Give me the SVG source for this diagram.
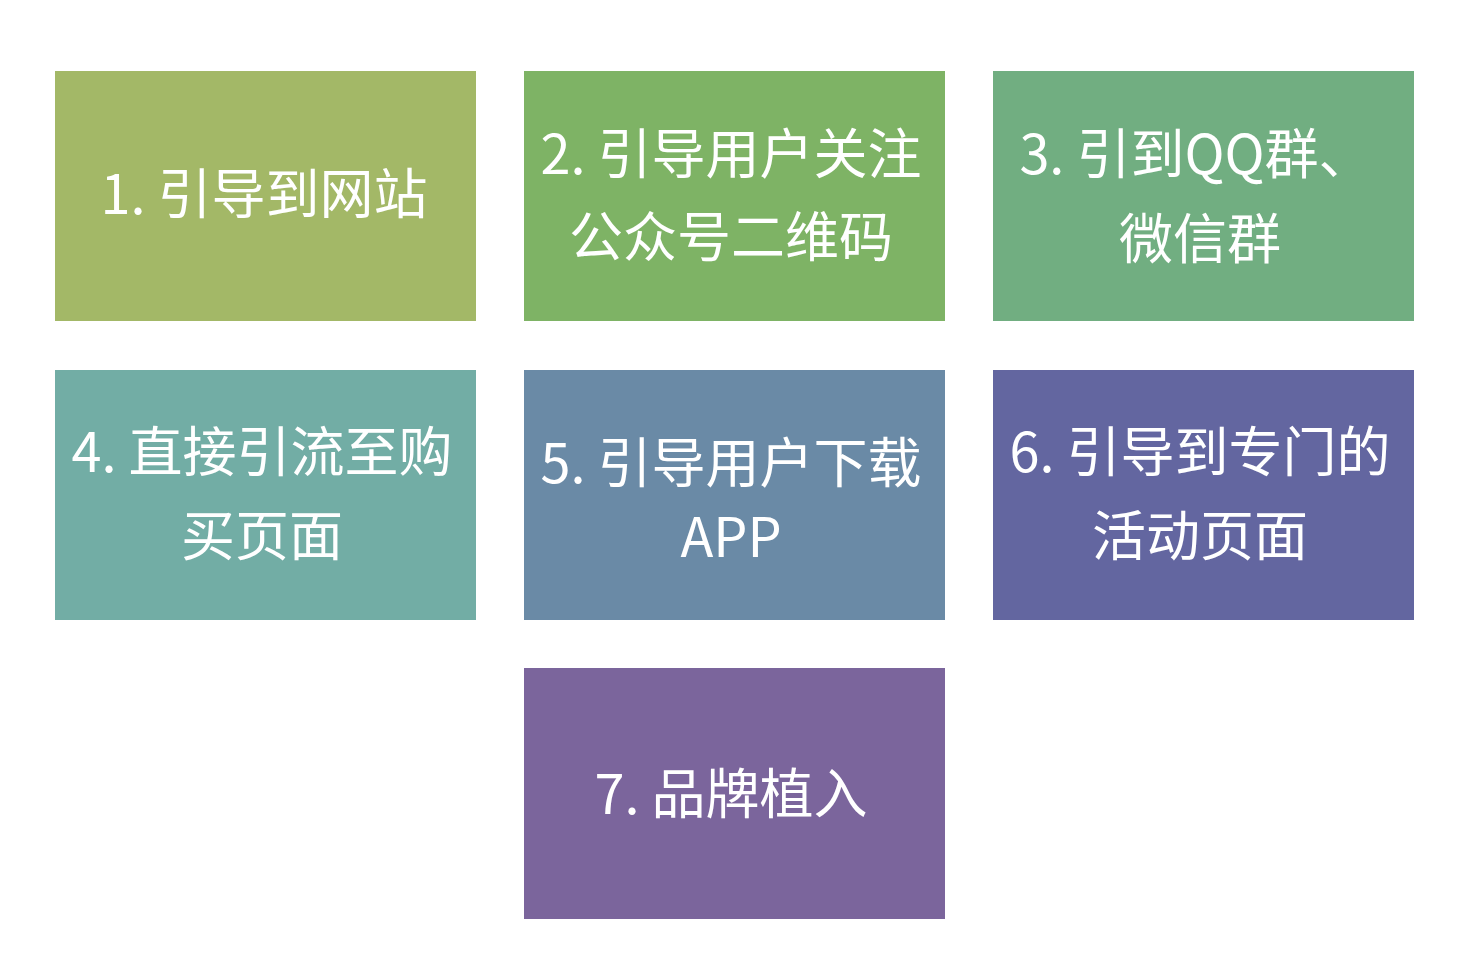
<svg xmlns="http://www.w3.org/2000/svg" width="1478" height="956" viewBox="0 0 1478 956">
<style>
.box{stroke:none}
.t{font-family:"Noto Sans CJK SC","Noto Sans",sans-serif;font-size:54px;fill:#ffffff;text-anchor:middle}
</style>
<rect width="1478" height="956" fill="#ffffff"/>
<g id="connectors"></g>
<g id="n1"><rect class="box" x="55" y="71" width="421" height="250" fill="#A3B867"/><text class="t" x="264" y="214">1. 引导到网站</text></g>
<g id="n2"><rect class="box" x="524" y="71" width="421" height="250" fill="#7EB365"/><text class="t" x="731" y="174">2. 引导用户关注</text><text class="t" x="731" y="257">公众号二维码</text></g>
<g id="n3"><rect class="box" x="993" y="71" width="421" height="250" fill="#71AE81"/><text class="t" x="1196" y="174">3. 引到QQ群、</text><text class="t" x="1200" y="259">微信群</text></g>
<g id="n4"><rect class="box" x="55" y="370" width="421" height="250" fill="#72ADA5"/><text class="t" x="262" y="472">4. 直接引流至购</text><text class="t" x="262" y="556">买页面</text></g>
<g id="n5"><rect class="box" x="524" y="370" width="421" height="250" fill="#6A8AA6"/><text class="t" x="731" y="483">5. 引导用户下载</text><text class="t" x="731" y="557">APP</text></g>
<g id="n6"><rect class="box" x="993" y="370" width="421" height="250" fill="#6366A0"/><text class="t" x="1200" y="472">6. 引导到专门的</text><text class="t" x="1200" y="556">活动页面</text></g>
<g id="n7"><rect class="box" x="524" y="668" width="421" height="251" fill="#7B659C"/><text class="t" x="731" y="814">7. 品牌植入</text></g>
</svg>
